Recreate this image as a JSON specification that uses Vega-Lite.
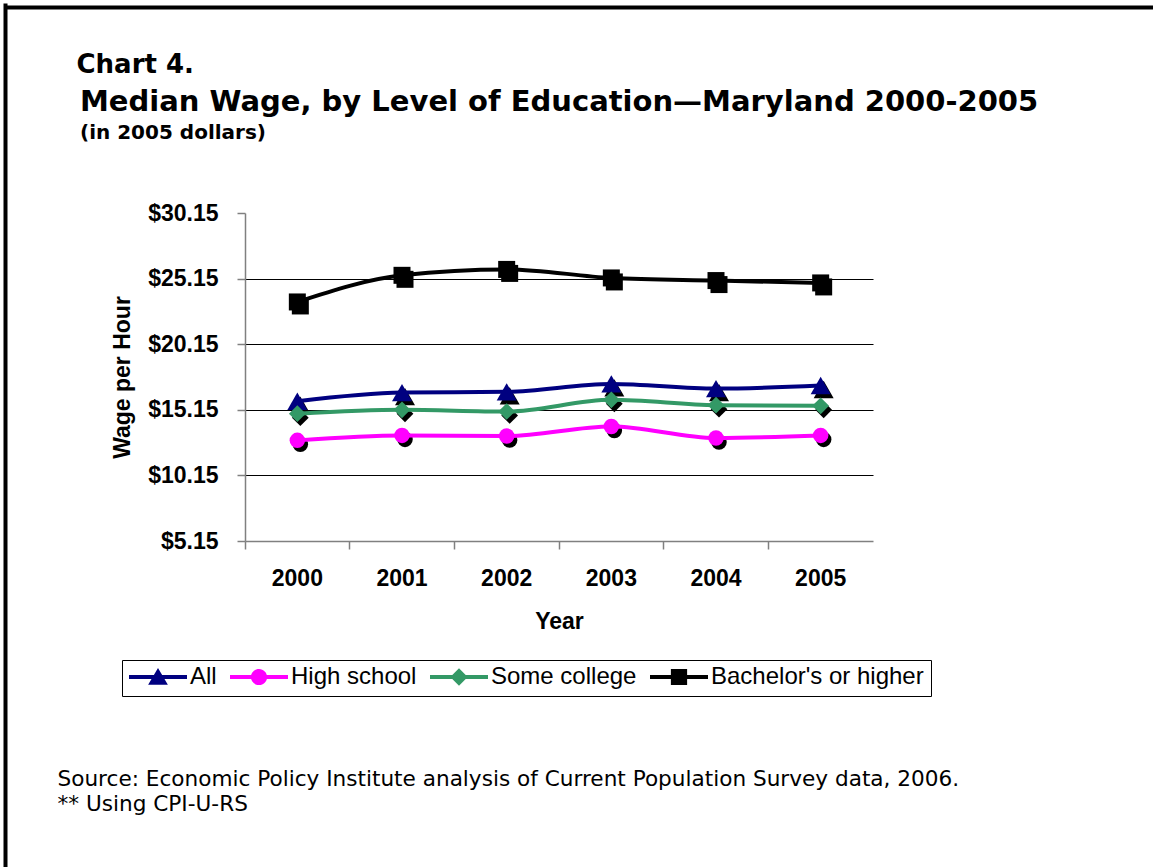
{
  "$schema": "https://vega.github.io/schema/vega-lite/v6.json",
  "width": 628,
  "height": 328,
  "autosize": "none",
  "padding": {"left": 245, "top": 213, "right": 280, "bottom": 326},
  "background": "#ffffff",
  "config": {"view": {"stroke": null}},
  "title": {
    "text": "Median Wage, by Level of Education—Maryland 2000-2005",
    "subtitle": "(in 2005 dollars)",
    "anchor": "start",
    "frame": "group",
    "dx": -165,
    "offset": -136,
    "font": "DejaVu Sans",
    "fontSize": 29,
    "fontWeight": "bold",
    "color": "#000000",
    "subtitleFont": "DejaVu Sans",
    "subtitleFontSize": 20,
    "subtitleFontWeight": "bold",
    "subtitleColor": "#000000",
    "subtitlePadding": 6
  },
  "data": {
    "values": [
      {"series": "All", "year": "2000", "wage": 15.80},
      {"series": "All", "year": "2001", "wage": 16.46},
      {"series": "All", "year": "2002", "wage": 16.52},
      {"series": "All", "year": "2003", "wage": 17.12},
      {"series": "All", "year": "2004", "wage": 16.77},
      {"series": "All", "year": "2005", "wage": 17.00},
      {"series": "High school", "year": "2000", "wage": 12.82},
      {"series": "High school", "year": "2001", "wage": 13.20},
      {"series": "High school", "year": "2002", "wage": 13.15},
      {"series": "High school", "year": "2003", "wage": 13.88},
      {"series": "High school", "year": "2004", "wage": 13.00},
      {"series": "High school", "year": "2005", "wage": 13.20},
      {"series": "Some college", "year": "2000", "wage": 14.85},
      {"series": "Some college", "year": "2001", "wage": 15.15},
      {"series": "Some college", "year": "2002", "wage": 15.02},
      {"series": "Some college", "year": "2003", "wage": 15.91},
      {"series": "Some college", "year": "2004", "wage": 15.50},
      {"series": "Some college", "year": "2005", "wage": 15.45},
      {"series": "Bachelor's or higher", "year": "2000", "wage": 23.37},
      {"series": "Bachelor's or higher", "year": "2001", "wage": 25.40},
      {"series": "Bachelor's or higher", "year": "2002", "wage": 25.85},
      {"series": "Bachelor's or higher", "year": "2003", "wage": 25.20},
      {"series": "Bachelor's or higher", "year": "2004", "wage": 25.00},
      {"series": "Bachelor's or higher", "year": "2005", "wage": 24.82}
    ]
  },
  "resolve": {"scale": {"x": "independent", "y": "independent"}, "axis": {"x": "independent", "y": "independent"}},
  "layer": [
    {
      "transform": [{"filter": "false"}],
      "mark": {"type": "point", "opacity": 0},
      "encoding": {
        "x": {
          "field": "wage", "type": "quantitative",
          "scale": {"domain": [0, 1], "range": [-240, 908], "nice": false, "zero": false},
          "axis": {
            "orient": "top", "offset": 206, "domain": true, "domainColor": "#000000", "domainWidth": 4,
            "ticks": false, "labels": false, "grid": false,
            "title": "Chart 4.", "titleX": -169, "titleY": 65, "titleAlign": "left", "titleAnchor": "start",
            "titleBaseline": "alphabetic", "titleAngle": 0,
            "titleFont": "DejaVu Sans", "titleFontSize": 26, "titleFontWeight": "bold", "titleColor": "#000000"
          }
        },
        "y": {
          "field": "wage", "type": "quantitative",
          "scale": {"domain": [0, 1], "range": [660, -210], "nice": false, "zero": false},
          "axis": {
            "orient": "left", "offset": 240, "domain": true, "domainColor": "#000000", "domainWidth": 4,
            "ticks": false, "labels": false, "grid": false,
            "title": ["Source: Economic Policy Institute analysis of Current Population Survey data, 2006.", "** Using CPI-U-RS"],
            "titleX": 52, "titleY": 572, "titleAlign": "left", "titleAnchor": "start",
            "titleBaseline": "alphabetic", "titleAngle": 0, "titleLineHeight": 25,
            "titleFont": "DejaVu Sans", "titleFontSize": 21.6, "titleFontWeight": "normal", "titleColor": "#000000"
          }
        }
      }
    },
    {
      "encoding": {
        "x": {
          "field": "year", "type": "ordinal",
          "scale": {"type": "band", "domain": ["2000", "2001", "2002", "2003", "2004", "2005"], "paddingInner": 0, "paddingOuter": 0},
          "axis": {
            "orient": "bottom", "bandPosition": 0, "labelAngle": 0,
            "tickSize": 8, "tickColor": "#808080", "tickWidth": 1.5,
            "domainColor": "#808080", "domainWidth": 1.5, "grid": false,
            "labelFont": "Liberation Sans", "labelFontSize": 23, "labelFontWeight": "bold", "labelColor": "#000000", "labelPadding": 18,
            "title": "Year", "titleFont": "Liberation Sans", "titleFontSize": 23, "titleFontWeight": "bold", "titleColor": "#000000", "titlePadding": 20
          }
        },
        "y": {
          "field": "wage", "type": "quantitative",
          "scale": {"domain": [5.15, 30.15], "nice": false, "zero": false},
          "axis": {
            "orient": "left",
            "values": [5.15, 10.15, 15.15, 20.15, 25.15, 30.15], "format": "$.2f",
            "tickSize": 8, "tickColor": "#808080", "tickWidth": 1.5,
            "domainColor": "#808080", "domainWidth": 1.5,
            "grid": true, "gridColor": "#000000", "gridWidth": 1,
            "gridOpacity": {"condition": {"test": "datum.value > 30 || datum.value < 6", "value": 0}, "value": 1},
            "labelFont": "Liberation Sans", "labelFontSize": 23, "labelFontWeight": "bold", "labelColor": "#000000", "labelPadding": 19,
            "title": "Wage per Hour", "titleFont": "Liberation Sans", "titleFontSize": 23, "titleFontWeight": "bold", "titleColor": "#000000", "titlePadding": 13
          }
        }
      },
      "layer": [
        {"transform": [{"filter": {"field": "series", "equal": "All"}}], "mark": {"type": "point", "shape": "triangle-up", "filled": true, "size": 400, "color": "#000000", "opacity": 1, "xOffset": 3, "yOffset": 4}},
        {"transform": [{"filter": {"field": "series", "equal": "High school"}}], "mark": {"type": "point", "shape": "circle", "filled": true, "size": 240, "color": "#000000", "opacity": 1, "xOffset": 3, "yOffset": 4}},
        {"transform": [{"filter": {"field": "series", "equal": "Some college"}}], "mark": {"type": "point", "shape": "diamond", "filled": true, "size": 280, "color": "#000000", "opacity": 1, "xOffset": 3, "yOffset": 4}},
        {"transform": [{"filter": {"field": "series", "equal": "Bachelor's or higher"}}], "mark": {"type": "point", "shape": "square", "filled": true, "size": 289, "color": "#000000", "opacity": 1, "xOffset": 3, "yOffset": 4}},
        {
          "mark": {"type": "line", "interpolate": "monotone", "strokeWidth": 4},
          "encoding": {
            "color": {"field": "series", "type": "nominal",
              "scale": {"domain": ["All", "High school", "Some college", "Bachelor's or higher"], "range": ["#000080", "#FF00FF", "#339966", "#000000"]},
              "legend": {
                "title": null, "orient": "none", "direction": "horizontal", "legendX": -123, "legendY": 447,
                "strokeColor": "#000000", "fillColor": "#ffffff", "padding": 7,
                "symbolSize": 3364, "clipHeight": 20, "labelOffset": 3, "columnPadding": 13, "labelLimit": 400,
                "labelFont": "Liberation Sans", "labelFontSize": 24, "labelColor": "#000000",
                "encode": {
                  "symbols": {
                    "update": {
                      "shape": {"signal": "datum.value === 'All' ? 'M-1,-0.07H1V0.07H-1Z M0,-0.31L0.34,0.27L-0.34,0.27Z' : datum.value === 'High school' ? 'M-1,-0.07H1V0.07H-1Z M-0.28,0 A0.28,0.28 0 1 1 0.28,0 A0.28,0.28 0 1 1 -0.28,0Z' : datum.value === 'Some college' ? 'M-1,-0.07H1V0.07H-1Z M0,-0.3L0.3,0L0,0.3L-0.3,0Z' : 'M-1,-0.07H1V0.07H-1Z M-0.28,-0.28H0.28V0.28H-0.28Z'"},
                      "fill": {"scale": "color", "field": "value"},
                      "stroke": {"value": "transparent"},
                      "strokeWidth": {"value": 0},
                      "size": {"value": 3364},
                      "opacity": {"value": 1}
                    }
                  }
                }
              }
            },
            "detail": {"field": "series"}
          }
        },
        {"transform": [{"filter": {"field": "series", "equal": "All"}}], "mark": {"type": "point", "shape": "triangle-up", "filled": true, "size": 400, "color": "#000080", "opacity": 1}},
        {"transform": [{"filter": {"field": "series", "equal": "High school"}}], "mark": {"type": "point", "shape": "circle", "filled": true, "size": 240, "color": "#FF00FF", "opacity": 1}},
        {"transform": [{"filter": {"field": "series", "equal": "Some college"}}], "mark": {"type": "point", "shape": "diamond", "filled": true, "size": 280, "color": "#339966", "opacity": 1}},
        {"transform": [{"filter": {"field": "series", "equal": "Bachelor's or higher"}}], "mark": {"type": "point", "shape": "square", "filled": true, "size": 289, "color": "#000000", "opacity": 1}}
      ]
    }
  ]
}
